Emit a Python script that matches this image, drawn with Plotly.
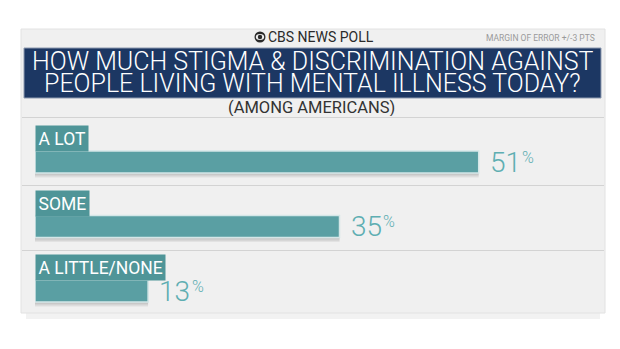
import plotly.graph_objects as go

# ---- data ----
categories = ["A LOT", "SOME", "A LITTLE/NONE"]
values = [51, 35, 13]
title_lines = ["HOW MUCH STIGMA & DISCRIMINATION AGAINST",
               "PEOPLE LIVING WITH MENTAL ILLNESS TODAY?"]
subtitle = "(AMONG AMERICANS)"
brand = "CBS NEWS POLL"
margin_note = "MARGIN OF ERROR +/-3 PTS"

W, H = 620, 349
def px(x):
    return x / W
def py(y):
    return 1 - y / H

BAR = "#5a9fa3"
LABEL_BG = "#4f9598"
PCT = "#5eaeb2"
NAVY = "#1c3763"
FONT = "Roboto"

fig = go.Figure()

# soft shadow bars
for off, alpha in [(-0.10, 0.07), (-0.12, 0.08), (-0.14, 0.06)]:
    fig.add_trace(go.Bar(
        x=values, y=categories, orientation="h",
        marker=dict(color=f"rgba(40,40,40,{alpha})", line=dict(width=0)),
        width=0.34, offset=off, hoverinfo="skip", showlegend=False,
    ))
# main bars
fig.add_trace(go.Bar(
    x=values, y=categories, orientation="h",
    marker=dict(color=BAR, line=dict(color="#d4e6e7", width=1.5)),
    width=0.34, showlegend=False,
))

shapes = []
# card shadow
shapes.append(dict(type="rect", xref="paper", yref="paper",
                   x0=px(26), x1=px(600), y0=py(319), y1=py(300),
                   fillcolor="rgba(0,0,0,0.05)", line=dict(width=0), layer="below"))
# card
shapes.append(dict(type="rect", xref="paper", yref="paper",
                   x0=px(21), x1=px(605), y0=py(313), y1=py(29),
                   fillcolor="#f0f0f0", line=dict(color="#e2e2e2", width=1), layer="below"))
# navy title box
shapes.append(dict(type="rect", xref="paper", yref="paper",
                   x0=px(24), x1=px(601), y0=py(98), y1=py(48),
                   fillcolor=NAVY, line=dict(color="#8d9ab0", width=1), layer="below"))
# separators
for yy in [117.5, 185.5, 250.5]:
    shapes.append(dict(type="line", xref="paper", yref="paper",
                       x0=px(22), x1=px(604), y0=py(yy), y1=py(yy),
                       line=dict(color="#d3d3d3", width=1.2), layer="below"))
# CBS eye logo
shapes.append(dict(type="circle", xref="paper", yref="paper",
                   x0=px(254.5), x1=px(265.5), y0=py(42.5), y1=py(31.5),
                   fillcolor="#2a2a2a", line=dict(width=0)))
shapes.append(dict(type="circle", xref="paper", yref="paper",
                   x0=px(255.8), x1=px(264.2), y0=py(40), y1=py(34),
                   fillcolor="#f0f0f0", line=dict(width=0)))
shapes.append(dict(type="circle", xref="paper", yref="paper",
                   x0=px(257.8), x1=px(262.2), y0=py(39.2), y1=py(34.8),
                   fillcolor="#2a2a2a", line=dict(width=0)))

annotations = []
annotations.append(dict(xref="paper", yref="paper", x=px(266), y=py(37),
                        xanchor="left", yanchor="middle", showarrow=False,
                        text=brand, font=dict(family=FONT, size=14, color="#2a2a2a")))
annotations.append(dict(xref="paper", yref="paper", x=px(597), y=py(38),
                        xanchor="right", yanchor="middle", showarrow=False,
                        text=margin_note, font=dict(family=FONT, size=8.5, color="#9a9a9a")))
for line, yy in zip(title_lines, [62, 84]):
    annotations.append(dict(xref="paper", yref="paper", x=px(312.5), y=py(yy),
                            xanchor="center", yanchor="middle", showarrow=False,
                            text=line, height=21, valign="middle",
                            font=dict(family=FONT, size=25, color="white", weight=300)))
annotations.append(dict(xref="paper", yref="paper", x=px(312), y=py(107.5),
                        xanchor="center", yanchor="middle", showarrow=False,
                        text=subtitle, height=18, valign="middle",
                        font=dict(family=FONT, size=16.5, color="#333333")))
for c, v in zip(categories, values):
    annotations.append(dict(xref="x", yref="y", x=0, y=c, xanchor="left",
                            yanchor="middle", yshift=23.5, showarrow=False,
                            text=c, bgcolor=LABEL_BG, borderpad=2.5,
                            font=dict(family=FONT, size=17.5, color="white")))
    annotations.append(dict(xref="x", yref="y", x=v, y=c, xanchor="left",
                            yanchor="middle", xshift=9, yshift=0, showarrow=False,
                            text=str(v),
                            font=dict(family=FONT, size=28, color=PCT, weight=300)))
    annotations.append(dict(xref="x", yref="y", x=v, y=c, xanchor="left",
                            yanchor="middle", xshift=10 + 15.7 * len(str(v)), yshift=5,
                            showarrow=False, text="%",
                            font=dict(family=FONT, size=16, color=PCT, weight=300)))

fig.update_layout(
    width=W, height=H,
    margin=dict(l=0, r=0, t=0, b=0),
    paper_bgcolor="white", plot_bgcolor="rgba(0,0,0,0)",
    barmode="overlay",
    shapes=shapes, annotations=annotations,
    xaxis=dict(domain=[px(35), px(35 + 60 * 8.7)], range=[0, 60],
               visible=False, fixedrange=True),
    yaxis=dict(domain=[py(323.25), py(129.75)], range=[2.5, -0.5],
               visible=False, type="category", fixedrange=True),
)

fig.write_html("out.html")
